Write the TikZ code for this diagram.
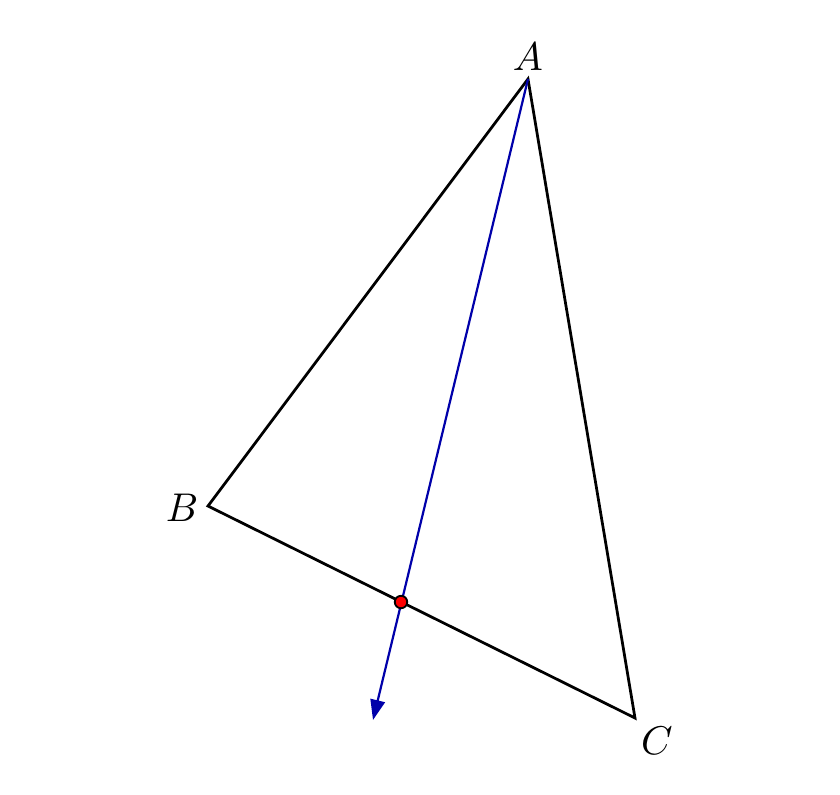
\documentclass[tikz,border=0pt]{standalone}
\usepackage{amsmath}
\usepackage{amssymb}
\usepackage{tikz}
\usetikzlibrary{arrows.meta}
\definecolor{rayblue}{RGB}{0,0,170}

\begin{document}
\begin{tikzpicture}[x=0.273pt, y=-0.273pt, every node/.style={font=\fontsize{11}{13}\selectfont}]
			\useasboundingbox (0,0) rectangle (840,794);
			\coordinate (A) at (528,79);
			\coordinate (B) at (208,506);
			\coordinate (C) at (635,718);
			\coordinate (E) at (373,720);
			\coordinate (D) at (401,602);
			
			\node (a) at (528,57) {$A$};
			\node (b) at (182,508) {$B$};
			\node (c) at (657,741) {$C$};
			
			\draw[line width=0.75pt, line join=miter] (A) -- (B) -- (C) -- cycle;
			\draw[-{Triangle[length=5.5pt,width=4pt]}, rayblue, line width=0.6pt] (A) -- (E);
			\filldraw[fill=red, draw=black, line width=0.5pt] (D) circle (1.7pt);
		\end{tikzpicture}
\end{document}
